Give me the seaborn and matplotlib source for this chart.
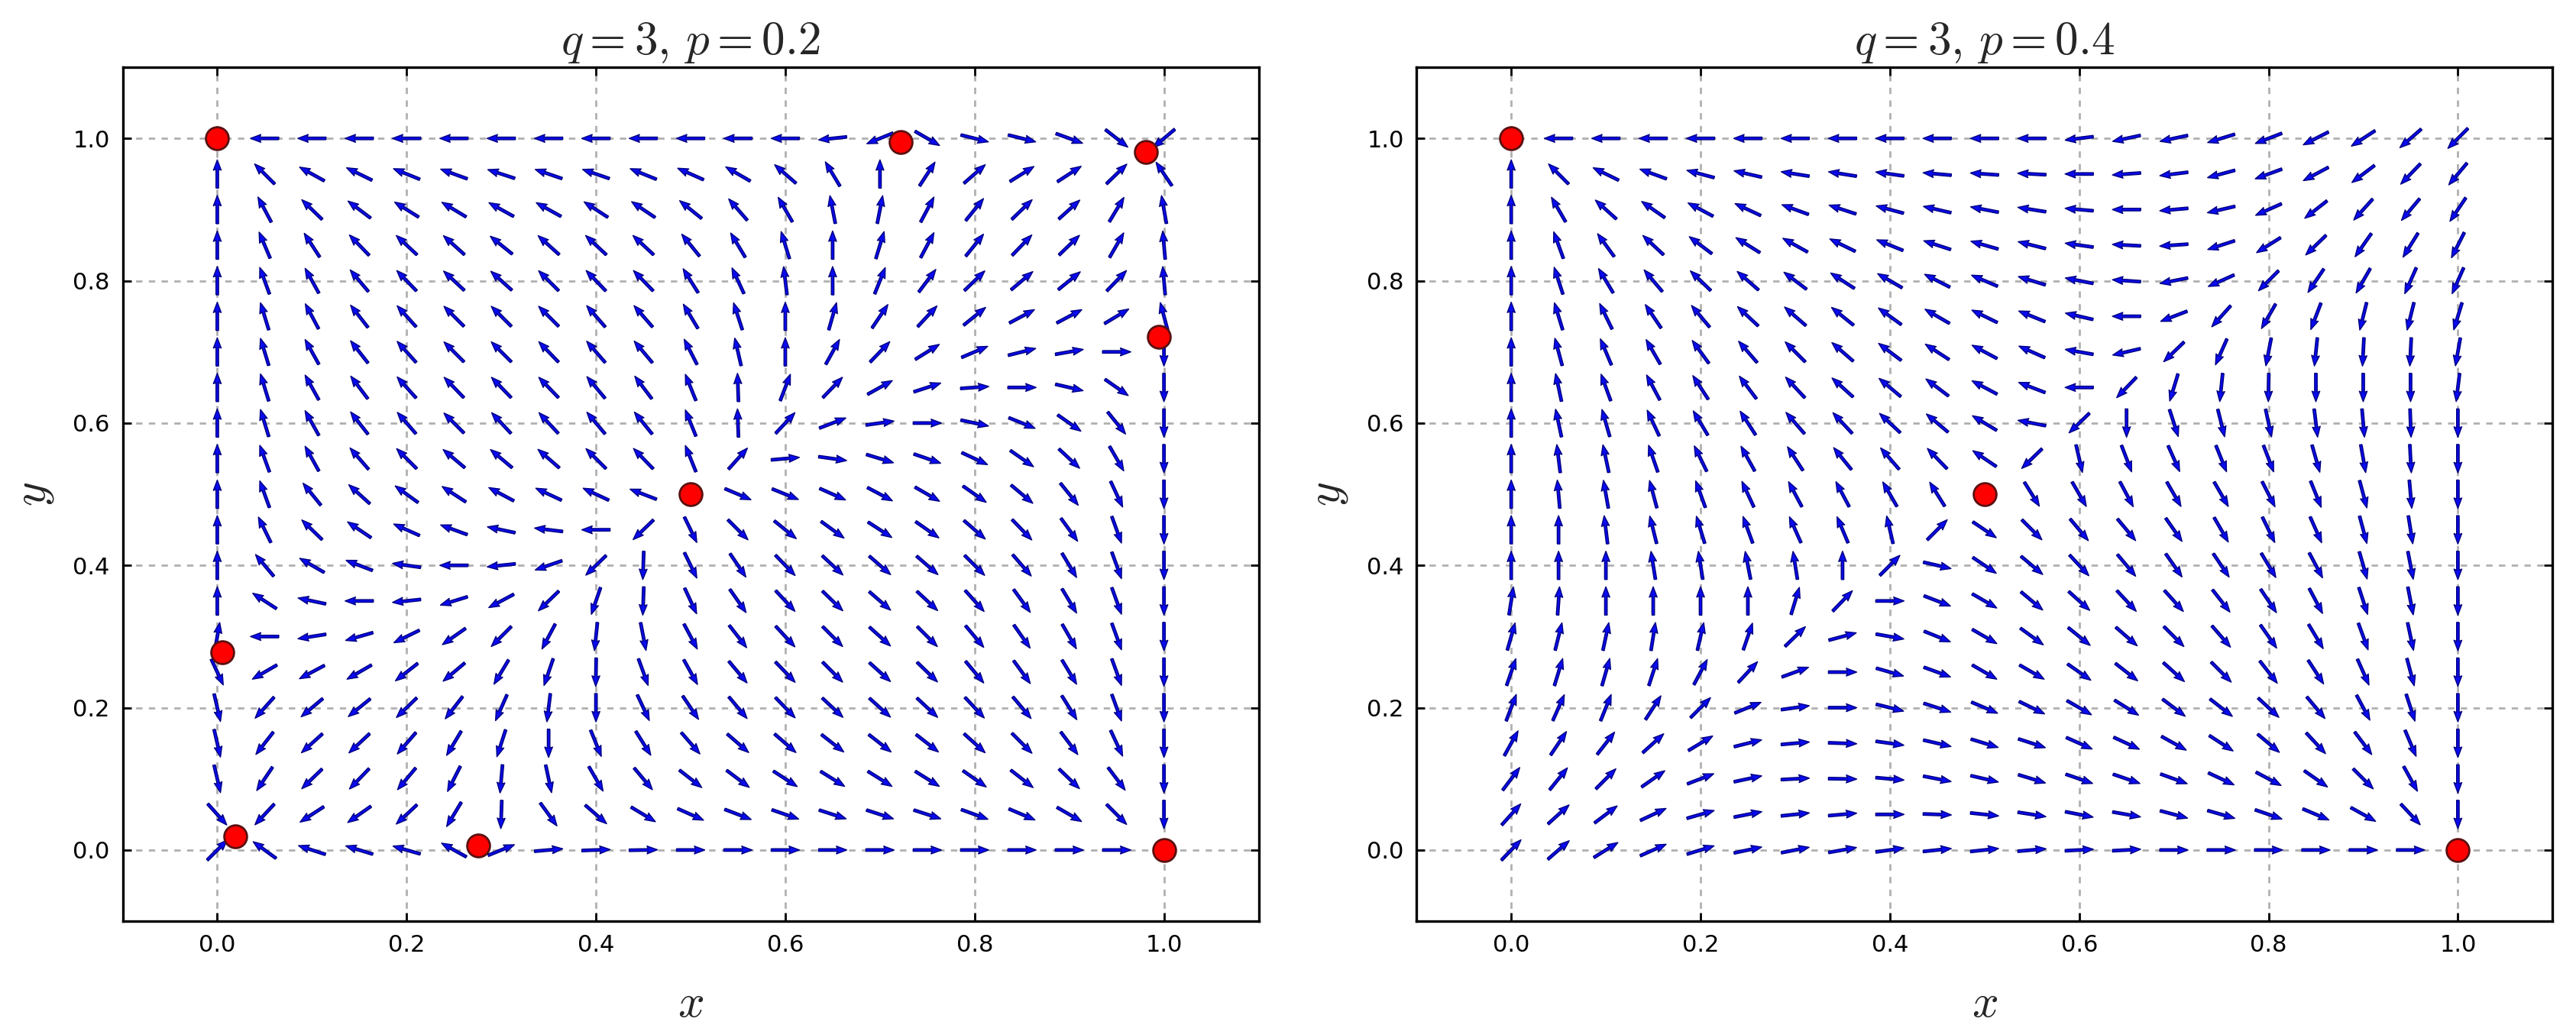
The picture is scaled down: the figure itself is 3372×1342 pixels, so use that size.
import numpy as np
import matplotlib
matplotlib.use("Agg")
import matplotlib.pyplot as plt
import seaborn as sns

nan = np.nan

# sample points of the direction field (same on both axes)
grid_levels = [0.0, 0.05, 0.1, 0.15, 0.2, 0.25, 0.3, 0.35, 0.4, 0.45, 0.5,
               0.55, 0.6, 0.65, 0.7, 0.75, 0.8, 0.85, 0.9, 0.95, 1.0]

# arrow directions (screen angle in degrees, 0 = right, 90 = up)
# rows: y = 1.0 (top) down to y = 0.0, columns: x = 0.0 ... 1.0
# nan = fixed point, no arrow drawn
angles_p02 = [
    [nan, 180, 180, 180, 180, 180, 180, 180, 180, 180, 180, 180, 180, 186, 202, 330, 346, 346, 340, 322, 220],
    [90, 135, 151, 154, 158, 160, 162, 161, 161, 158, 156, 150, 139, 121, 90, 57, 41, 32, 33, 44, 124],
    [90, 118, 136, 143, 148, 149, 151, 151, 147, 146, 141, 131, 120, 101, 79, 62, 51, 44, 42, 59, 100],
    [90, 113, 123, 134, 137, 138, 141, 138, 137, 137, 129, 121, 107, 90, 73, 62, 51, 46, 44, 60, 95],
    [90, 110, 119, 130, 134, 137, 138, 135, 134, 134, 122, 115, 97, 90, 68, 53, 44, 40, 39, 46, 95],
    [90, 107, 118, 128, 132, 135, 135, 135, 131, 131, 121, 108, 90, 74, 56, 47, 39, 28, 28, 31, 105],
    [90, 107, 119, 128, 132, 135, 135, 134, 131, 130, 117, 103, 90, 61, 46, 32, 23, 14, 10, 0, 270],
    [90, 107, 119, 127, 132, 134, 134, 134, 130, 127, 112, 92, 69, 46, 29, 18, 4, 0, 347, 325, 270],
    [90, 107, 119, 128, 131, 135, 133, 133, 130, 129, 112, 92, 47, 21, 8, 0, 348, 338, 325, 309, 270],
    [90, 110, 119, 131, 135, 140, 140, 139, 135, 134, 112, 48, 5, 352, 343, 341, 335, 325, 317, 300, 270],
    [90, 110, 129, 138, 144, 147, 152, 155, 155, 159, nan, 337, 338, 336, 332, 330, 325, 320, 309, 295, 270],
    [90, 116, 136, 146, 156, 160, 168, 173, 180, 224, 296, 315, 321, 324, 327, 325, 319, 314, 306, 290, 270],
    [90, 130, 150, 159, 172, 180, 186, 199, 224, 268, 296, 304, 314, 317, 319, 319, 315, 311, 301, 290, 270],
    [90, 147, 168, 180, 186, 197, 208, 224, 251, 268, 295, 305, 313, 316, 319, 317, 312, 306, 301, 290, 270],
    [80, 180, 189, 196, 206, 215, 225, 242, 264, 281, 298, 308, 313, 315, 318, 315, 310, 305, 300, 290, 270],
    [295, 210, 208, 210, 218, 220, 239, 251, 269, 290, 299, 310, 314, 315, 318, 316, 310, 306, 301, 290, 270],
    [283, 228, 220, 219, 224, 232, 246, 263, 270, 295, 304, 310, 314, 317, 318, 317, 313, 310, 302, 290, 270],
    [283, 232, 222, 223, 229, 239, 252, 270, 292, 302, 311, 319, 319, 322, 322, 322, 318, 315, 307, 295, 270],
    [283, 236, 224, 226, 230, 243, 265, 282, 300, 310, 322, 323, 327, 328, 328, 328, 325, 322, 316, 307, 270],
    [312, 227, 213, 215, 223, 239, 268, 306, 319, 329, 336, 339, 341, 342, 342, 342, 340, 337, 330, 315, 270],
    [45, 144, 162, 163, 164, 151, 22, 5, 2, 1, 0, 0, 0, 0, 0, 0, 0, 0, 0, 0, nan],
]

angles_p04 = [
    [nan, 180, 180, 180, 180, 180, 180, 180, 180, 180, 180, 180, 187, 192, 192, 197, 201, 207, 213, 221, 225],
    [90, 135, 154, 160, 165, 167, 171, 171, 172, 175, 176, 177, 180, 184, 187, 195, 200, 208, 217, 226, 230],
    [90, 120, 138, 145, 152, 155, 160, 162, 165, 167, 169, 171, 175, 180, 185, 193, 204, 218, 228, 230, 236],
    [90, 110, 126, 137, 143, 148, 151, 154, 158, 162, 164, 166, 172, 177, 184, 198, 212, 224, 235, 238, 243],
    [90, 108, 121, 130, 136, 139, 143, 147, 150, 153, 157, 163, 169, 176, 191, 204, 225, 236, 240, 246, 246],
    [90, 107, 116, 124, 130, 137, 139, 141, 144, 150, 154, 158, 167, 180, 201, 228, 240, 249, 256, 256, 253],
    [90, 105, 113, 120, 126, 131, 135, 139, 143, 147, 152, 156, 170, 193, 224, 246, 259, 264, 267, 267, 260],
    [90, 102, 110, 118, 123, 127, 133, 138, 140, 143, 152, 159, 180, 226, 253, 264, 269, 270, 270, 270, 263],
    [90, 102, 106, 115, 121, 123, 131, 133, 137, 140, 149, 169, 224, 270, 288, 284, 282, 277, 275, 272, 270],
    [90, 97, 102, 109, 116, 119, 123, 129, 131, 134, 146, 224, 283, 291, 294, 292, 291, 286, 280, 273, 270],
    [90, 95, 100, 105, 110, 115, 118, 118, 120, 122, nan, 302, 300, 298, 300, 300, 297, 292, 285, 275, 270],
    [90, 90, 97, 104, 107, 110, 114, 113, 103, 45, 326, 315, 310, 310, 305, 300, 296, 294, 285, 279, 270],
    [90, 90, 90, 99, 99, 101, 99, 90, 45, 347, 326, 320, 313, 310, 305, 304, 301, 298, 286, 281, 270],
    [81, 86, 90, 90, 90, 90, 73, 46, 0, 339, 330, 320, 318, 313, 312, 308, 304, 298, 288, 281, 270],
    [74, 76, 78, 81, 77, 71, 44, 15, 350, 338, 330, 324, 321, 319, 315, 311, 305, 301, 290, 282, 270],
    [71, 73, 74, 72, 62, 47, 20, 0, 344, 340, 330, 330, 325, 322, 318, 315, 308, 303, 294, 285, 270],
    [69, 66, 68, 57, 45, 22, 8, 0, 346, 342, 337, 334, 330, 328, 323, 322, 317, 310, 298, 288, 270],
    [61, 56, 52, 42, 31, 14, 5, 358, 352, 347, 343, 342, 336, 335, 331, 327, 320, 313, 307, 293, 270],
    [53, 51, 45, 35, 21, 12, 3, 359, 355, 349, 347, 343, 341, 341, 340, 335, 332, 325, 315, 299, 270],
    [48, 42, 37, 25, 16, 11, 6, 5, 0, 358, 354, 351, 349, 350, 345, 344, 341, 337, 331, 313, 270],
    [46, 41, 32, 24, 17, 12, 11, 10, 8, 6, 6, 5, 3, 3, 0, 0, 0, 0, 0, 0, nan],
]

# fixed points (red dots)
fixed_x_p02 = [0.0, 0.722, 0.981, 0.995, 0.5, 0.005, 0.019, 0.276, 1.0]
fixed_y_p02 = [1.0, 0.995, 0.981, 0.721, 0.5, 0.278, 0.019, 0.006, 0.0]
fixed_x_p04 = [0.0, 0.5, 1.0]
fixed_y_p04 = [1.0, 0.5, 0.0]

titles = [r'$q=3,\,p=0.2$', r'$q=3,\,p=0.4$']
tick_values = [0.0, 0.2, 0.4, 0.6, 0.8, 1.0]

sns.set_style('white')
plt.rcParams['font.family'] = ['DejaVu Sans']
plt.rcParams['mathtext.fontset'] = 'cm'

fig = plt.figure(figsize=(3372 / 200, 1342 / 200), dpi=200)
ax_left = fig.add_axes([0.0476, 0.1013, 0.4410, 0.8331])
ax_right = fig.add_axes([0.5499, 0.1013, 0.4410, 0.8331])

X, Y = np.meshgrid(grid_levels, grid_levels[::-1])

panels = [
    (ax_left, angles_p02, fixed_x_p02, fixed_y_p02, titles[0]),
    (ax_right, angles_p04, fixed_x_p04, fixed_y_p04, titles[1]),
]

for ax, ang, fx, fy, title in panels:
    rad = np.radians(np.array(ang, dtype=float))
    U = np.ma.masked_invalid(np.cos(rad))
    V = np.ma.masked_invalid(np.sin(rad))

    ax.quiver(X, Y, U, V, pivot='middle', angles='uv',
              units='inches', scale_units='inches', scale=5.4,
              width=0.017, headwidth=3.0, headlength=4.0, headaxislength=3.6,
              color='#0a0af0', edgecolor='#000080', linewidth=0.5, zorder=2)

    sns.scatterplot(x=fx, y=fy, ax=ax, color='red', s=115,
                    edgecolor='#5a1010', linewidth=1.0, zorder=3, legend=False)

    ax.set_xlim(-0.1, 1.1)
    ax.set_ylim(-0.1, 1.1)
    ax.set_xticks(tick_values)
    ax.set_yticks(tick_values)
    ax.set_xticklabels([f'{t:.1f}' for t in tick_values])
    ax.set_yticklabels([f'{t:.1f}' for t in tick_values])
    ax.tick_params(direction='in', length=4, width=1, pad=6, labelsize=11,
                   top=True, right=True, bottom=True, left=True, colors='black')

    ax.set_axisbelow(True)
    ax.grid(True, color='#b0b0b0', linestyle=(0, (3, 3)), linewidth=1.0)
    for sp in ax.spines.values():
        sp.set_color('black')
        sp.set_linewidth(1.2)

    ax.set_title(title, fontsize=22, pad=6)
    ax.set_xlabel(r'$x$', fontsize=22, labelpad=12)
    ax.set_ylabel(r'$y$', fontsize=22, labelpad=8)

fig.savefig('out.png', dpi=200)
